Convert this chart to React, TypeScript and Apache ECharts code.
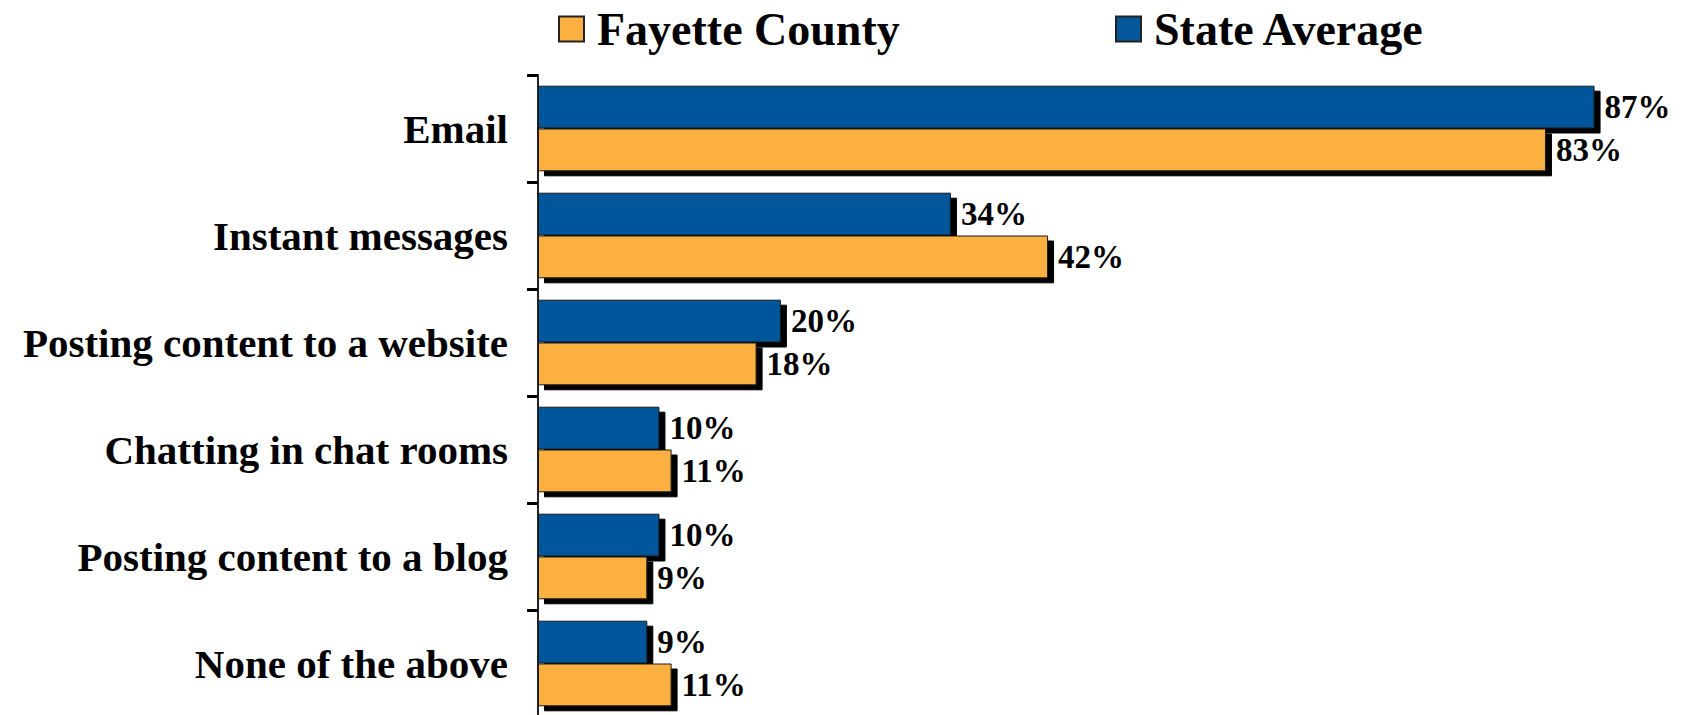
import React, { useEffect, useRef } from "react";
import * as echarts from "echarts";

const categories = [
  "Email",
  "Instant messages",
  "Posting content to a website",
  "Chatting in chat rooms",
  "Posting content to a blog",
  "None of the above",
];
const stateAverage = [87, 34, 20, 10, 10, 9];
const fayetteCounty = [83, 42, 18, 11, 9, 11];
const seriesNames = ["Fayette County", "State Average"];

const BLUE = "#04569a";
const ORANGE = "#fbb040";
const SERIF = "'Liberation Serif', 'DejaVu Serif', serif";

export default function App() {
  const ref = useRef<HTMLDivElement>(null);
  useEffect(() => {
    document.body.style.margin = "0";
    const chart = echarts.init(ref.current!, null, { renderer: "svg" });
    const barStyle = (color: string) => ({
      color,
      borderColor: "#1a1a1a",
      borderWidth: 1,
      shadowColor: "#000",
      shadowBlur: 0,
      shadowOffsetX: 6,
      shadowOffsetY: 5,
    });
    const labelStyle = {
      show: true,
      position: "right",
      distance: 10,
      formatter: "{c}%",
      color: "#000",
      fontFamily: SERIF,
      fontWeight: "bold",
      fontSize: 33,
    };
    const legendCommon = {
      orient: "horizontal",
      top: 6,
      padding: 0,
      itemWidth: 25,
      itemHeight: 25,
      icon: "rect",
      itemStyle: {
        borderColor: "#222",
        borderWidth: 2,
        shadowBlur: 0,
        shadowOffsetX: 0,
        shadowOffsetY: 0,
        shadowColor: "rgba(0,0,0,0)",
      },
      textStyle: {
        color: "#000",
        fontFamily: SERIF,
        fontWeight: "bold",
        fontSize: 46,
        padding: [0, 0, 0, 8],
      },
    };
    chart.setOption({
      animation: false,
      backgroundColor: "#ffffff",
      legend: [
        { ...legendCommon, left: 558, data: [seriesNames[0]] },
        { ...legendCommon, left: 1115, data: [seriesNames[1]] },
      ],
      grid: { left: 538, top: 75, right: 0, height: 642, containLabel: false, outerBoundsMode: "none" },
      xAxis: {
        type: "value",
        min: 0,
        max: 94.2,
        show: false,
        splitLine: { show: false },
      },
      yAxis: {
        type: "category",
        data: categories,
        inverse: true,
        axisLine: { show: true, lineStyle: { color: "#222", width: 2 } },
        axisTick: { show: true, length: 11, lineStyle: { color: "#000", width: 3 } },
        axisLabel: {
          color: "#000",
          fontFamily: SERIF,
          fontWeight: "bold",
          fontSize: 41,
          margin: 30,
        },
      },
      series: [
        {
          name: seriesNames[1],
          type: "bar",
          data: stateAverage,
          barGap: "0%",
          barCategoryGap: "20%",
          itemStyle: barStyle(BLUE),
          label: labelStyle,
        },
        {
          name: seriesNames[0],
          type: "bar",
          data: fayetteCounty,
          barGap: "0%",
          barCategoryGap: "20%",
          itemStyle: barStyle(ORANGE),
          label: labelStyle,
        },
      ],
    });
    return () => chart.dispose();
  }, []);
  return (
    <div
      ref={ref}
      style={{ position: "absolute", left: 0, top: 0, width: 1682, height: 715 }}
    />
  );
}
